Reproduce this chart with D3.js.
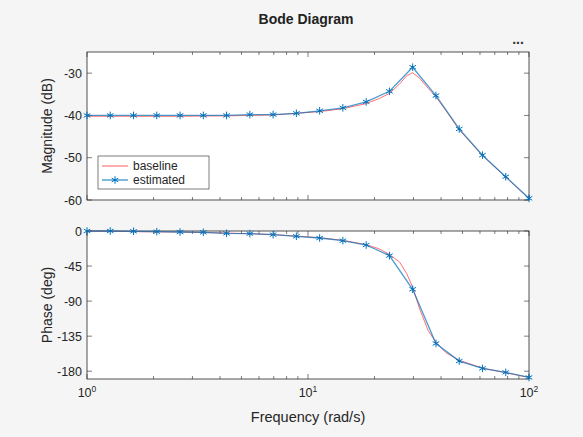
<!DOCTYPE html>
<html><head><meta charset="utf-8">
<script src="https://cdn.jsdelivr.net/npm/d3@7"></script>
<style>body{margin:0;background:#f5f5f5;font-family:"Liberation Sans",Arial,sans-serif}</style>
</head><body><svg id="c" width="583" height="437"></svg>
<script>
const estFreq = [1,1.274,1.624,2.069,2.637,3.360,4.281,5.456,6.952,8.859,11.29,14.38,18.33,23.36,29.76,37.93,48.33,61.58,78.48,100];
const estMag = [-40,-40,-40,-40,-40,-40,-40,-39.8,-39.8,-39.5,-38.9,-38.2,-36.8,-34.3,-28.6,-35.3,-43.2,-49.4,-54.5,-59.6];
const estPhase = [0,0,-0.4,-0.9,-1.3,-1.7,-3,-3.4,-4.7,-6.8,-9,-12.4,-18,-31.6,-74.8,-144.4,-167,-176.4,-181.5,-188];
const baseFreq = [1,1.624,2.637,4.281,6.952,11.29,14.38,18.33,21,23.36,26,28,29.76,32,35,37.93,42,48.33,61.58,78.48,100];
const baseMag = [-40.2,-40.2,-40.2,-40.1,-39.9,-39.1,-38.4,-37.2,-36,-34.8,-32.5,-30.6,-29.9,-31.2,-33.6,-35.6,-38.8,-43.4,-49.5,-54.6,-59.7];
const basePhase = [0,-0.8,-1.4,-2.6,-4.5,-8.6,-12,-17.5,-23,-30,-40,-55,-72,-100,-128,-143,-156,-166,-176,-182,-188];
const magTicks = [-60,-50,-40,-30];
const phaseTicks = [-180,-135,-90,-45,0];
const xTicks = [1,10,100];

const svg = d3.select("#c");
const L=87,R=529;
const x = d3.scaleLog().domain([1,100]).range([L,R]);
const top1={t:52,b:200}, top2={t:231,b:379};
const yM = d3.scaleLinear().domain([-60,-25]).range([top1.b,top1.t]);
const yP = d3.scaleLinear().domain([-190,0]).range([top2.b,top2.t]);
const minor = [];
[1,10].forEach(d=>{for(let k=2;k<=9;k++)minor.push(d*k);});

svg.append("text").attr("x",306).attr("y",24).attr("text-anchor","middle").attr("font-size",14).attr("font-weight","bold").attr("fill","#222").text("Bode Diagram");
svg.append("text").attr("x",518).attr("y",44).attr("text-anchor","middle").attr("font-size",14).attr("font-weight","bold").attr("fill","#333").text("...");

function panel(p,y,yt,label,showX){
  const g=svg.append("g");
  g.append("rect").attr("x",L).attr("y",p.t).attr("width",R-L).attr("height",p.b-p.t).attr("fill","#fff");
  const tk=g.append("g").attr("stroke","#262626").attr("stroke-width",0.6);
  xTicks.forEach(v=>{tk.append("line").attr("x1",x(v)).attr("x2",x(v)).attr("y1",p.b).attr("y2",p.b-5);tk.append("line").attr("x1",x(v)).attr("x2",x(v)).attr("y1",p.t).attr("y2",p.t+5);});
  minor.forEach(v=>{tk.append("line").attr("x1",x(v)).attr("x2",x(v)).attr("y1",p.b).attr("y2",p.b-3);tk.append("line").attr("x1",x(v)).attr("x2",x(v)).attr("y1",p.t).attr("y2",p.t+3);});
  yt.forEach(v=>{tk.append("line").attr("x1",L).attr("x2",L+5).attr("y1",y(v)).attr("y2",y(v));tk.append("line").attr("x1",R).attr("x2",R-5).attr("y1",y(v)).attr("y2",y(v));
    g.append("text").attr("x",L-5).attr("y",y(v)+4.5).attr("text-anchor","end").attr("font-size",12.5).attr("fill","#262626").text(v);});
  g.append("rect").attr("x",L).attr("y",p.t).attr("width",R-L).attr("height",p.b-p.t).attr("fill","none").attr("stroke","#262626").attr("stroke-width",0.8);
  g.append("text").attr("transform",`translate(${L-35},${(p.t+p.b)/2}) rotate(-90)`).attr("text-anchor","middle").attr("font-size",14).attr("fill","#262626").text(label);
  if(showX){xTicks.forEach((v,i)=>{const t=g.append("text").attr("x",x(v)).attr("y",p.b+18).attr("text-anchor","middle").attr("font-size",12.5).attr("fill","#262626");
    t.append("tspan").text("10");t.append("tspan").attr("dy",-5).attr("font-size",8.5).text(i);});}
  return g;
}
function series(g,y,bf,bv,ef,ev){
  const line=d3.line().x(d=>x(d[0])).y(d=>y(d[1]));
  g.append("path").attr("d",line(bf.map((f,i)=>[f,bv[i]]))).attr("fill","none").attr("stroke","#ff2020").attr("stroke-opacity",0.8).attr("stroke-width",0.8);
  const ed=ef.map((f,i)=>[f,ev[i]]);
  g.append("path").attr("d",line(ed)).attr("fill","none").attr("stroke","#0072BD").attr("stroke-width",1.3).attr("stroke-opacity",0.7);
  const sym=d3.symbol().type(d3.symbolAsterisk).size(40);
  g.selectAll(null).data(ed).join("path").attr("transform",d=>`translate(${x(d[0])},${y(d[1])})`).attr("d",sym).attr("fill","none").attr("stroke","#0072BD").attr("stroke-width",1);
}
const g1=panel(top1,yM,magTicks,"Magnitude (dB)",false);
series(g1,yM,baseFreq,baseMag,estFreq,estMag);
const g2=panel(top2,yP,phaseTicks,"Phase (deg)",true);
series(g2,yP,baseFreq,basePhase,estFreq,estPhase);

svg.append("text").attr("x",308).attr("y",422).attr("text-anchor","middle").attr("font-size",14.5).attr("fill","#262626").text("Frequency (rad/s)");

const lg=svg.append("g");
lg.append("rect").attr("x",98).attr("y",156).attr("width",111).attr("height",33).attr("fill","#fff").attr("stroke","#262626").attr("stroke-width",0.6);
lg.append("line").attr("x1",102).attr("x2",128).attr("y1",166).attr("y2",166).attr("stroke","#ff2020").attr("stroke-opacity",0.6).attr("stroke-width",1.2);
lg.append("line").attr("x1",102).attr("x2",128).attr("y1",180).attr("y2",180).attr("stroke","#0072BD").attr("stroke-width",1);
lg.append("path").attr("transform","translate(115,180)").attr("d",d3.symbol().type(d3.symbolAsterisk).size(40)()).attr("fill","none").attr("stroke","#0072BD");
lg.append("text").attr("x",133).attr("y",170).attr("font-size",12).attr("fill","#262626").text("baseline");
lg.append("text").attr("x",133).attr("y",184).attr("font-size",12).attr("fill","#262626").text("estimated");
</script></body></html>
